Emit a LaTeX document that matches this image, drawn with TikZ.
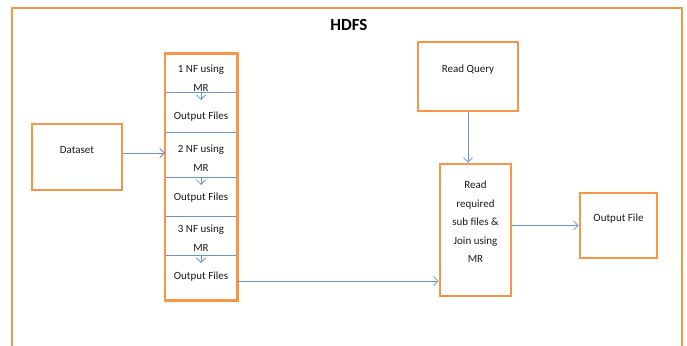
\documentclass[tikz,border=0pt]{standalone}
\usepackage{fontspec}
\setmainfont{Carlito}
\usetikzlibrary{arrows.meta}
\definecolor{hdfsorange}{HTML}{F79646}
\definecolor{flowblue}{HTML}{4F81BD}
\tikzset{
  box/.style={draw=hdfsorange, line width=2.6pt, inner sep=0pt},
  txt/.style={align=center, inner sep=1pt, font=\fontsize{11pt}{18.5pt}\selectfont, text=black!90},
  flow/.style={draw=flowblue!85, line width=0.8pt, -{Straight Barb[length=4.5pt,width=9pt]}},
  divider/.style={draw=flowblue!85, line width=0.8pt},
}
\begin{document}
\begin{tikzpicture}[x=1pt,y=-1pt]
\useasboundingbox (0,0) rectangle (687,345);
% outer frame, open at the bottom
\draw[box] (12,352) -- (12,8) -- (682,8) -- (682,352);
\node[font=\fontsize{17pt}{20pt}\selectfont\bfseries] (hdfs) at (349,25) {HDFS};

% the map reduce stages
\node[minimum width=72pt, minimum height=246pt, inner sep=0pt] (stack) at (201,177) {};
\foreach \y in {132,216}
  \draw[divider] (stack.west |- 0,\y) -- (stack.east |- 0,\y);
\foreach \n/\a/\b/\c in {1/78/92/117, 2/158/177/198, 3/238/255/277} {
  \node[txt] (nf\n) at (201,\a) {\n{} NF using\\MR};
  \node[txt] (out\n) at (201,\c) {Output Files};
  \coordinate (split\n) at (201,\b);
  \draw[divider] (stack.west |- split\n) -- (stack.east |- split\n);
  \draw[flow] (split\n) -- ++(0,8);
}
\draw[box] (stack.north west) rectangle (stack.south east);

% boxes
\node[box, minimum width=90pt, minimum height=66pt] (dataset) at (77,157) {};
\node[txt] (dataset-t) at ([yshift=7pt]dataset.center) {Dataset};
\node[box, minimum width=100pt, minimum height=69pt] (query) at (468,76.5) {};
\node[txt] (query-t) at ([yshift=7pt]query.center) {Read Query};
\node[box, minimum width=71pt, minimum height=132pt] (join) at (475.5,230) {};
\node[txt] (join-t) at ([yshift=8pt]join.center) {Read\\required\\sub files \&\\Join using\\MR};
\node[box, minimum width=77pt, minimum height=65pt] (result) at (618.5,225.5) {};
\node[txt] (result-t) at ([yshift=6.5pt]result.center) {Output File};

% connectors
\coordinate (in) at ([yshift=4pt]dataset.east);
\draw[flow] (in) -- (in -| stack.west);
\draw[flow] (query.south) -- (query.south |- join.north);
\draw[flow] (result.west -| join.east) -- (result.west);
\draw[flow] (stack.east |- 0,281) -- (join.west |- 0,281);
\end{tikzpicture}
\end{document}
